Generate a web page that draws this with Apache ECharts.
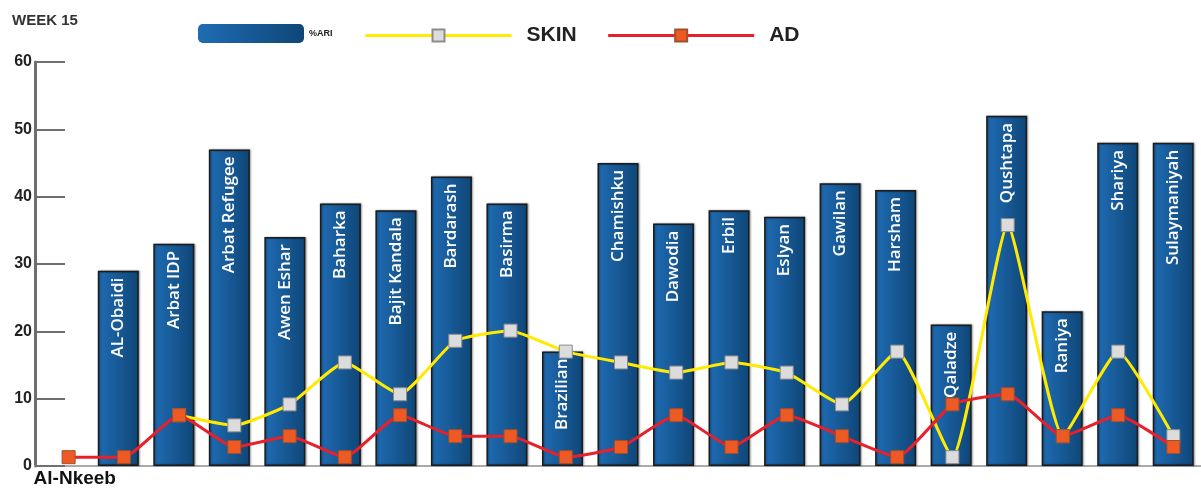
<!DOCTYPE html>
<html>
<head>
<meta charset="utf-8">
<script src="https://cdn.jsdelivr.net/npm/echarts@6/dist/echarts.min.js"></script>
<style>
html,body{margin:0;padding:0;background:#fff;}
#chart{width:1201px;height:488px;}
</style>
</head>
<body>
<div id="chart"></div>
<script>
var categories = ['Al-Nkeeb','AL-Obaidi','Arbat IDP','Arbat Refugee','Awen Eshar','Baharka','Bajit Kandala','Bardarash','Basirma','Brazilian','Chamishku','Dawodia','Erbil','Eslyan','Gawilan','Harsham','Qaladze','Qushtapa','Raniya','Shariya','Sulaymaniyah'];
var ariValues = [null,29,33,47,34,39,38,43,39,17,45,36,38,37,42,41,21,52,23,48,48];
var skinValues = [null,null,7.8,6.3,9.4,15.6,10.9,18.8,20.3,17.2,15.6,14.1,15.6,14.1,9.4,17.2,1.6,35.9,4.7,17.2,4.7];
var adValues = [1.6,1.6,7.8,3.1,4.7,1.6,7.8,4.7,4.7,1.6,3.1,7.8,3.1,7.8,4.7,1.6,9.4,10.9,4.7,7.8,3.1];
var yTicks = [0,10,20,30,40,50,60];

var chart = echarts.init(document.getElementById('chart'));
var barGrad = new echarts.graphic.LinearGradient(0,0,1,0,[
  {offset:0,color:'#1f6cb4'},
  {offset:1,color:'#0f4677'}
]);
chart.setOption({
  animation:false,
  backgroundColor:'#ffffff',
  title:{
    text:'WEEK 15', left:7, top:8,
    textStyle:{fontFamily:'Liberation Sans',fontSize:15,fontWeight:'bold',color:'#333'}
  },
  legend:[
    {
      data:['%ARI'], left:193, top:19, itemWidth:106, itemHeight:19,
      itemStyle:{borderWidth:0},
      textStyle:{fontFamily:'Liberation Sans',fontSize:9,fontWeight:'bold',color:'#222'}
    },
    {
      data:['SKIN','AD'], left:359, top:20, itemWidth:146, itemHeight:15, itemGap:30,
      lineStyle:{width:3},
      textStyle:{fontFamily:'Liberation Sans',fontSize:21,fontWeight:'bold',color:'#222',padding:[0,0,12,10]}
    }
  ],
  grid:[
    {left:35, right:-10, top:62, bottom:20, containLabel:false},
    {left:41, right:-7, top:62, bottom:20, containLabel:false}
  ],
  xAxis:[
    {
      type:'category', data:categories, gridIndex:0,
      axisLine:{lineStyle:{color:'#aaaaaa',width:2}},
      axisTick:{show:false},
      axisLabel:{
        interval:0, margin:3, padding:[0,0,0,24],
        fontFamily:'Liberation Sans', fontSize:19, fontWeight:'bold', color:'#111',
        formatter:function(v,i){return i===0 ? v : '';}
      }
    },
    {
      type:'category', data:categories, gridIndex:1, show:false
    }
  ],
  yAxis:[
    {
      type:'value', min:0, max:60, interval:10, gridIndex:0,
      axisLine:{show:true,lineStyle:{color:'#6f6f6f',width:3}},
      axisTick:{show:true,inside:true,length:30,lineStyle:{color:'#6f6f6f',width:2}},
      splitLine:{show:false},
      axisLabel:{
        margin:3,
        fontFamily:'Liberation Sans', fontSize:16, fontWeight:'bold', color:'#222',
        formatter:function(v){return yTicks.indexOf(v)>=0 ? String(v) : '';}
      }
    },
    {
      type:'value', min:0, max:60, interval:10, gridIndex:1, show:false
    }
  ],
  series:[
    {
      name:'%ARI', type:'bar', data:ariValues, barWidth:41, xAxisIndex:0, yAxisIndex:0,
      itemStyle:{color:barGrad, borderColor:'#1b1b1b', borderWidth:1.5,
        shadowColor:'rgba(0,0,0,0.35)', shadowBlur:2, shadowOffsetX:1},
      label:{
        show:true, position:'insideTop', rotate:90, align:'right', verticalAlign:'middle',
        distance:7, color:'#ffffff',
        fontFamily:'Open Sans', fontWeight:600, fontSize:17,
        formatter:function(p){return p.name;}
      },
      z:2
    },
    {
      name:'SKIN', type:'line', data:skinValues, smooth:0.15, xAxisIndex:1, yAxisIndex:1,
      symbol:'rect', symbolSize:13,
      lineStyle:{color:'#ffea00',width:3},
      itemStyle:{color:'#dcdcdc', borderColor:'#8c8c8c', borderWidth:1},
      z:3
    },
    {
      name:'AD', type:'line', data:adValues, smooth:0.15, xAxisIndex:1, yAxisIndex:1,
      symbol:'rect', symbolSize:13,
      lineStyle:{color:'#e8202a',width:3},
      itemStyle:{color:'#ee5a24', borderColor:'#a0502a', borderWidth:1},
      z:4
    }
  ]
});
</script>
</body>
</html>
